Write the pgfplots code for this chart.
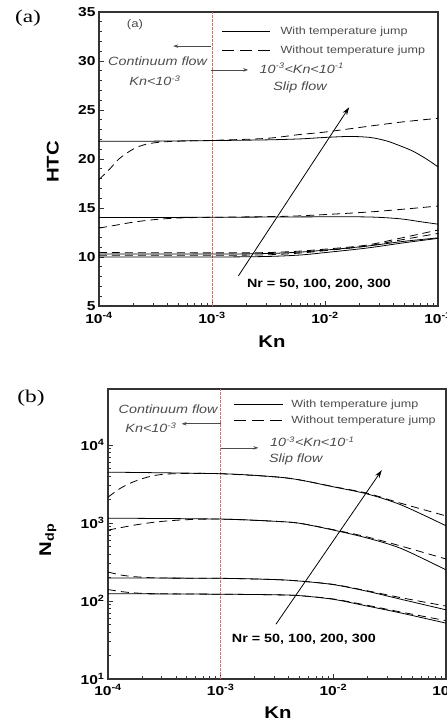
\documentclass[border=0pt]{standalone}
\usepackage{fontspec}
\setmainfont[FakeStretch=1.2]{Liberation Sans}
\newfontfamily\serifx[FakeStretch=1.3]{Liberation Serif}
\usepackage{pgfplots}
\pgfplotsset{compat=1.18}
\usetikzlibrary{arrows.meta}
\definecolor{redline}{rgb}{0.88,0.42,0.36}
\definecolor{txtgray}{gray}{0.3}
\definecolor{axgray}{gray}{0.2}
\tikzset{
  sol/.style={black, line width=0.8pt, smooth},
  das/.style={black, line width=0.8pt, smooth, dash pattern=on 8bp off 5bp},
}
\begin{document}
\begin{tikzpicture}
\useasboundingbox (0,0) rectangle (447bp,724bp);
\node[font=\serifx\fontsize{18}{18}\selectfont] at (28bp,706bp) {(a)};
\node[font=\serifx\fontsize{18}{18}\selectfont] at (31bp,326bp) {(b)};
% ---------------- (a) ----------------
\begin{axis}[scale only axis, at={(99bp,418bp)}, anchor=south west,
  width=339bp, height=294bp,
  /pgf/number format/assume math mode=true,
  xmode=log, xmin=1e-4, xmax=1e-1,
  xtick={1e-4,1e-3,1e-2,1e-1},
  xticklabels={10\textsuperscript{-4},10\textsuperscript{-3},10\textsuperscript{-2},10\textsuperscript{-1}},
  xticklabel style={yshift=-3bp},
  tick align=inside, xtick pos=bottom, ytick pos=left,
  axis line style={line width=1.1pt, axgray},
  major tick length=5bp, minor tick length=3bp,
  tick style={axgray, line width=0.6pt},
  tick label style={font=\fontsize{13}{13}\selectfont\bfseries},
  label style={font=\fontsize{17}{17}\selectfont\bfseries},
  ymin=5, ymax=35, ytick={5,10,...,35}, minor y tick num=4,
  xlabel={Kn}, ylabel={HTC},
  xlabel style={at={(axis description cs:0.51,-0.12)}, anchor=center},
  ylabel style={at={(axis description cs:-0.136,0.49)}, anchor=center},
  legend cell align=left,
  legend image code/.code={\draw[#1] (0bp,0bp) -- (48bp,0bp); \path (56bp,0bp);},
  legend style={at={(rel axis cs:0.353,0.965)}, anchor=north west, draw=none, fill=none,
    font=\fontsize{10.5}{12}\selectfont\color{txtgray}, row sep=6bp},
]
\addplot[redline, line width=0.7pt, dash pattern=on 3bp off 1bp, forget plot] coordinates {(1e-3,5) (1e-3,35)};
% Nr = 300
\addplot[sol, forget plot] coordinates {(1e-4,21.8) (3e-4,21.82) (1e-3,21.88) (3e-3,21.95) (6e-3,22.05) (1e-2,22.2) (1.66e-2,22.3) (2.5e-2,22.2) (3.5e-2,21.85) (4.6e-2,21.35) (6e-2,20.8) (7.9e-2,20.0) (1e-1,19.2)};
\addplot[das, forget plot] coordinates {(1e-4,17.9) (1.25e-4,19.0) (1.5e-4,20.0) (2e-4,21.0) (2.6e-4,21.5) (3.5e-4,21.72) (5e-4,21.82) (1e-3,21.9) (3e-3,22.1) (6e-3,22.5) (1e-2,22.75) (2.66e-2,23.4) (5e-2,23.8) (1e-1,24.15)};
% Nr = 200
\addplot[sol, forget plot] coordinates {(1e-4,14.02) (1e-3,14.05) (1e-2,14.1) (2.5e-2,14.08) (4.6e-2,13.9) (7e-2,13.6) (1e-1,13.35)};
\addplot[das, forget plot] coordinates {(1e-4,12.95) (1.5e-4,13.3) (2e-4,13.55) (3e-4,13.8) (5e-4,13.98) (1e-3,14.05) (3e-3,14.12) (6e-3,14.2) (2.66e-2,14.62) (1e-1,15.2)};
% Nr = 100, 50
\addplot[sol, forget plot] coordinates {(1e-4,10.0) (1e-3,10.0) (3e-3,10.05) (6e-3,10.2) (1e-2,10.45) (2.3e-2,10.9) (5e-2,11.45) (1e-1,11.9)};
\addplot[sol, forget plot] coordinates {(1e-4,10.3) (1e-3,10.3) (3e-3,10.35) (6e-3,10.5) (1e-2,10.7) (2.3e-2,11.1) (5e-2,11.6) (1e-1,11.95)};
\addplot[das, forget plot] coordinates {(1e-4,10.18) (1e-3,10.18) (3e-3,10.22) (6e-3,10.4) (1e-2,10.65) (2.3e-2,11.1) (5e-2,11.8) (1e-1,12.4)};
\addplot[das, forget plot] coordinates {(1e-4,10.45) (1e-3,10.42) (3e-3,10.45) (6e-3,10.6) (1e-2,10.8) (2.3e-2,11.2) (5e-2,12.0) (1e-1,12.75)};
\addlegendimage{black, line width=0.8pt}
\addlegendentry{With temperature jump}
\addlegendimage{black, line width=0.8pt, dash pattern=on 12bp off 6bp}
\addlegendentry{Without temperature jump}
\node[txtgray, font=\fontsize{11}{11}\selectfont] at (rel axis cs:0.106,0.956) {(a)};
\node[txtgray, font=\fontsize{12}{12}\selectfont\itshape] at (rel axis cs:0.173,0.831) {Continuum flow};
\node[txtgray, font=\fontsize{12}{12}\selectfont\itshape] at (rel axis cs:0.165,0.765) {Kn\textless10\textsuperscript{-3}};
\node[txtgray, font=\fontsize{12}{12}\selectfont\itshape] at (rel axis cs:0.598,0.809) {10\textsuperscript{-3}\textless Kn\textless10\textsuperscript{-1}};
\node[txtgray, font=\fontsize{12}{12}\selectfont\itshape] at (rel axis cs:0.593,0.744) {Slip flow};
\draw[txtgray, -{Stealth[length=5bp,width=3.5bp]}, line width=0.6pt] (rel axis cs:0.3295,0.884) -- (rel axis cs:0.219,0.884);
\draw[txtgray, -{Stealth[length=5bp,width=3.5bp]}, line width=0.6pt] (rel axis cs:0.331,0.803) -- (rel axis cs:0.440,0.803);
\draw[black, -{Stealth[length=8bp,width=5bp]}, line width=0.8pt] (rel axis cs:0.411,0.102) -- (rel axis cs:0.738,0.676);
\node[anchor=west, inner sep=0pt, font=\fontsize{12}{12}\selectfont\bfseries] at (rel axis cs:0.436,0.075) {Nr = 50, 100, 200, 300};
\end{axis}
% ---------------- (b) ----------------
\begin{axis}[scale only axis, at={(108bp,45bp)}, anchor=south west,
  width=338bp, height=290bp,
  xmode=log, xmin=1e-4, xmax=1e-1,
  xtick={1e-4,1e-3,1e-2,1e-1},
  xticklabels={10\textsuperscript{-4},10\textsuperscript{-3},10\textsuperscript{-2},10\textsuperscript{-1}},
  xticklabel style={yshift=-2bp},
  tick align=inside, xtick pos=bottom, ytick pos=left,
  axis line style={line width=1.1pt, axgray},
  major tick length=5bp, minor tick length=3bp,
  tick style={axgray, line width=0.6pt},
  tick label style={font=\fontsize{13}{13}\selectfont\bfseries},
  label style={font=\fontsize{17}{17}\selectfont\bfseries},
  ymode=log, ymin=10, ymax=52000, ytick={10,100,1000,10000},
  yticklabels={10\textsuperscript{1},10\textsuperscript{2},10\textsuperscript{3},10\textsuperscript{4}},
  xlabel={Kn}, ylabel={N\textsubscript{dp}},
  xlabel style={at={(axis description cs:0.503,-0.116)}, anchor=center},
  ylabel style={at={(axis description cs:-0.178,0.48)}, anchor=center},
  legend cell align=left,
  legend image code/.code={\draw[#1] (0bp,0bp) -- (49bp,0bp); \path (55bp,0bp);},
  legend style={at={(rel axis cs:0.362,0.978)}, anchor=north west, draw=none, fill=none,
    font=\fontsize{10.5}{12}\selectfont\color{txtgray}, row sep=3bp},
]
\addplot[redline, line width=0.7pt, dash pattern=on 3bp off 1bp, forget plot] coordinates {(1e-3,10) (1e-3,52000)};
% Nr = 300
\addplot[sol, forget plot] coordinates {(1e-4,4470) (1e-3,4270) (3e-3,3900) (5e-3,3560) (1e-2,2900) (2e-2,2350) (4e-2,1700) (1e-1,920)};
\addplot[das, forget plot] coordinates {(1e-4,2140) (1.3e-4,2800) (1.7e-4,3380) (2.3e-4,3900) (3.1e-4,4200) (5e-4,4300) (1e-3,4270) (3e-3,3900) (5e-3,3560) (1e-2,2920) (2e-2,2400) (3.9e-2,1800) (1e-1,1230)};
% Nr = 200
\addplot[sol, forget plot] coordinates {(1e-4,1150) (1e-3,1120) (3e-3,1050) (5e-3,990) (1e-2,810) (2e-2,640) (4e-2,470) (1e-1,250)};
\addplot[das, forget plot] coordinates {(1e-4,810) (1.3e-4,870) (1.7e-4,935) (2.3e-4,1000) (3.1e-4,1050) (5e-4,1100) (1e-3,1120) (3e-3,1050) (5e-3,990) (1e-2,820) (2e-2,660) (3.9e-2,510) (1e-1,345)};
% Nr = 100
\addplot[sol, forget plot] coordinates {(1e-4,197) (1e-3,195) (3e-3,188) (5e-3,180) (1e-2,162) (2e-2,133) (4e-2,105) (1e-1,77)};
\addplot[das, forget plot] coordinates {(1e-4,235) (1.3e-4,215) (1.7e-4,205) (2.5e-4,198) (4e-4,196) (1e-3,195) (3e-3,188) (5e-3,180) (1e-2,163) (2e-2,135) (4e-2,110) (1e-1,86)};
% Nr = 50
\addplot[sol, forget plot] coordinates {(1e-4,124) (1e-3,122) (3e-3,120) (5e-3,117) (1e-2,105) (2e-2,86) (4e-2,70) (1e-1,52)};
\addplot[das, forget plot] coordinates {(1e-4,140) (1.3e-4,132) (1.7e-4,127) (2.5e-4,124) (1e-3,122) (3e-3,120) (5e-3,117) (1e-2,106) (2e-2,88) (4e-2,72) (1e-1,56)};
\addlegendimage{black, line width=0.8pt}
\addlegendentry{With temperature jump}
\addlegendimage{black, line width=0.8pt, dash pattern=on 12bp off 6bp}
\addlegendentry{Without temperature jump}
\node[txtgray, font=\fontsize{12}{12}\selectfont\itshape] at (rel axis cs:0.178,0.929) {Continuum flow};
\node[txtgray, font=\fontsize{12}{12}\selectfont\itshape] at (rel axis cs:0.127,0.867) {Kn\textless10\textsuperscript{-3}};
\node[anchor=west, inner sep=0pt, txtgray, font=\fontsize{12}{12}\selectfont\itshape] at (rel axis cs:0.479,0.817) {10\textsuperscript{-3}\textless Kn\textless10\textsuperscript{-1}};
\node[anchor=west, inner sep=0pt, txtgray, font=\fontsize{12}{12}\selectfont\itshape] at (rel axis cs:0.476,0.756) {Slip flow};
\draw[txtgray, -{Stealth[length=5bp,width=3.5bp]}, line width=0.6pt] (rel axis cs:0.333,0.880) -- (rel axis cs:0.218,0.880);
\draw[txtgray, -{Stealth[length=5bp,width=3.5bp]}, line width=0.6pt] (rel axis cs:0.333,0.797) -- (rel axis cs:0.445,0.797);
\draw[black, -{Stealth[length=8bp,width=5bp]}, line width=0.8pt] (rel axis cs:0.497,0.189) -- (rel axis cs:0.810,0.720);
\node[anchor=west, inner sep=0pt, font=\fontsize{12}{12}\selectfont\bfseries] at (rel axis cs:0.366,0.137) {Nr = 50, 100, 200, 300};
\end{axis}
\end{tikzpicture}
\end{document}
